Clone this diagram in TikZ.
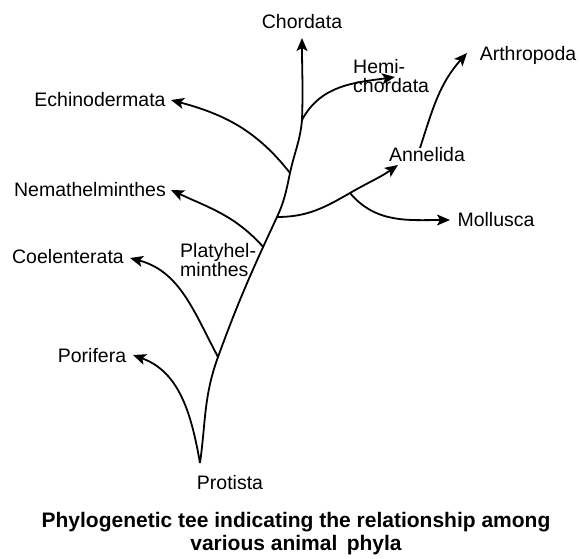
\documentclass[tikz,border=0pt]{standalone}
\usepackage{fontspec}
\setmainfont{Liberation Sans}
\usetikzlibrary{arrows.meta}
\begin{document}
\begin{tikzpicture}[x=1pt,y=1pt,
  branch/.style={line width=1.8pt,-{Stealth[length=13pt,width=11pt,inset=3pt]}},
  trunkline/.style={line width=1.8pt},
  lbl/.style={font=\fontsize{19.5}{22}\selectfont,inner sep=0pt},
  captxt/.style={font=\fontsize{21}{24}\bfseries\selectfont,inner sep=0pt,align=center}]
\useasboundingbox (0,0) rectangle (582,558);
\fill[white] (0,0) rectangle (582,558);
% junctions
\coordinate (R) at (200,95);
\coordinate (J1) at (218,201);
\coordinate (J3) at (277,341);
\coordinate (J4) at (290,385);
\coordinate (J5) at (302,438);
\coordinate (M0) at (350,365);
\coordinate (A0) at (420,410);
% arrow tips
\coordinate (Tchor) at (302,520);
\coordinate (Themi) at (395,481);
\coordinate (Tarth) at (467,505);
\coordinate (Tann) at (398,393);
\coordinate (Tmol) at (450,338);
\coordinate (Tech) at (171,458);
\coordinate (Tnem) at (171,368);
\coordinate (Tcoe) at (130,300);
\coordinate (Tpor) at (133,203);
% labels
\node[lbl] (protista) at (230,75) {Protista};
\node[lbl] (porifera) at (92,202) {Porifera};
\node[lbl] (coel) at (68,301) {Coelenterata};
\node[lbl,anchor=west,align=left] (platy) at (180,298) {Platyhel-\\[-3pt]minthes};
\node[lbl] (nemat) at (90,368) {Nemathelminthes};
\node[lbl] (echino) at (100,458) {Echinodermata};
\node[lbl] (chord) at (302,536) {Chordata};
\node[lbl,anchor=west,align=left] (hemi) at (353,482) {Hemi-\\[-3pt]chordata};
\node[lbl] (arth) at (528,503) {Arthropoda};
\node[lbl] (annel) at (427,403) {Annelida};
\node[lbl] (moll) at (496,338) {Mollusca};
\node[captxt] (cap1) at (296,36) {Phylogenetic tee indicating the relationship among};
\node[captxt] (cap2) at (296,13) {various animal \,phyla};
% trunk
\draw[branch] (R) to[out=82,in=250] (J1) to[out=70,in=245] coordinate[pos=0.8] (J2) (J3)
  to[out=65,in=258] (J4) to[out=78,in=265] (J5) to[out=88,in=-90] (Tchor);
% side branches
\draw[branch] (R) to[out=100,in=-20] (Tpor);
\draw[branch] (J1) to[out=118,in=-15] (Tcoe);
\draw[branch] (J2) to[out=132,in=-25] (Tnem);
\draw[branch] (J4) to[out=128,in=-15] (Tech);
\draw[branch] (J5) to[out=62,in=188] (Themi);
\draw[trunkline] (J3) to[out=0,in=210] (M0);
\draw[branch] (M0) to[out=30,in=215] (Tann);
\draw[branch] (M0) to[out=-50,in=180] (Tmol);
\draw[branch] (A0) to[out=72,in=228] (Tarth);
\end{tikzpicture}
\end{document}
